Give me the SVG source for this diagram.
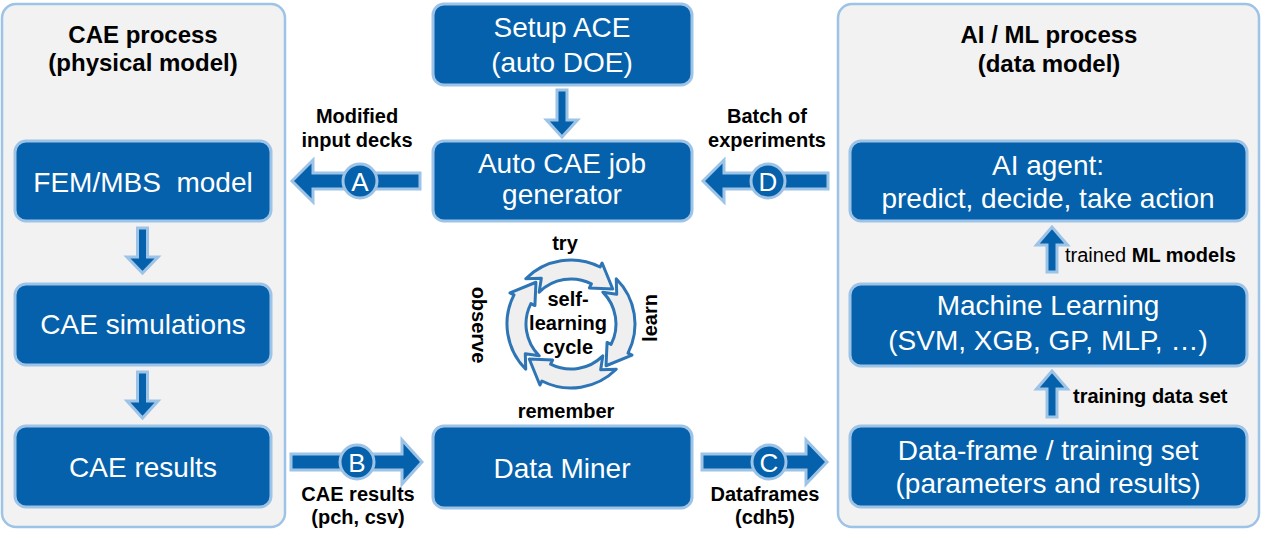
<svg xmlns="http://www.w3.org/2000/svg" width="1262" height="543" viewBox="0 0 1262 543">
<style>
.panel{fill:#f2f2f2;stroke:#9dc3e6;stroke-width:2.5}
.box{fill:#0561ab;stroke:#9dc3e6;stroke-width:3}
.bt{font-family:"Liberation Sans",Arial,sans-serif;font-size:28px;fill:#fff;text-anchor:middle}
.title{font-family:"Liberation Sans",Arial,sans-serif;font-size:24px;font-weight:bold;fill:#000;text-anchor:middle}
.lbl{font-family:"Liberation Sans",Arial,sans-serif;font-size:20px;font-weight:bold;fill:#000;text-anchor:middle}
.lblr{font-family:"Liberation Sans",Arial,sans-serif;font-size:20px;fill:#000}
.arr{fill:#0561ab;stroke:#9dc3e6;stroke-width:3;stroke-linejoin:miter}
.circ{fill:#0561ab;stroke:#9dc3e6;stroke-width:3}
.ct{font-family:"Liberation Sans",Arial,sans-serif;font-size:26px;fill:#fff;text-anchor:middle}
.cyc{fill:#efefef;stroke:#2e75b6;stroke-width:3;stroke-linejoin:round}
</style>
<defs>
<path id="cycArrow" class="cyc" d="M525.75,278.75 A64,64 0 0,1 600.06,266.98 L602.10,262.97 L612.75,288.97 L589.39,287.91 L591.43,283.90 A45,45 0 0,0 539.18,292.18 L541.32,278.29 Z"/>
</defs>
<rect width="1262" height="543" fill="#fff"/>

<g id="panel-cae">
<rect class="panel" x="2" y="4" width="283" height="523" rx="14"/>
<text class="title" x="143" y="43">CAE process</text>
<text class="title" x="143" y="71">(physical model)</text>
</g>
<g id="panel-ai">
<rect class="panel" x="838" y="4" width="421" height="523" rx="14"/>
<text class="title" x="1049" y="43">AI / ML process</text>
<text class="title" x="1049" y="72">(data model)</text>
</g>

<g id="fem">
<rect class="box" x="15" y="141" width="256" height="80" rx="11"/>
<text class="bt" x="143" y="192" xml:space="preserve">FEM/MBS  model</text>
</g>
<g id="cae-sim">
<rect class="box" x="15" y="284" width="256" height="81" rx="11"/>
<text class="bt" x="143" y="334">CAE simulations</text>
</g>
<g id="cae-res">
<rect class="box" x="15" y="426" width="256" height="81" rx="11"/>
<text class="bt" x="143" y="477">CAE results</text>
</g>
<g id="setup">
<rect class="box" x="433" y="4" width="259" height="81" rx="11"/>
<text class="bt" x="562" y="37">Setup ACE</text>
<text class="bt" x="562" y="72">(auto DOE)</text>
</g>
<g id="jobgen">
<rect class="box" x="433" y="141" width="259" height="80" rx="11"/>
<text class="bt" x="562" y="173">Auto CAE job</text>
<text class="bt" x="562" y="204">generator</text>
</g>
<g id="miner">
<rect class="box" x="433" y="426" width="259" height="82" rx="11"/>
<text class="bt" x="562" y="478">Data Miner</text>
</g>
<g id="agent">
<rect class="box" x="850" y="141" width="397" height="80" rx="11"/>
<text class="bt" x="1048" y="175">AI agent:</text>
<text class="bt" x="1048" y="208">predict, decide, take action</text>
</g>
<g id="ml">
<rect class="box" x="850" y="284" width="397" height="82" rx="11"/>
<text class="bt" x="1048" y="315">Machine Learning</text>
<text class="bt" x="1048" y="350">(SVM, XGB, GP, MLP, …)</text>
</g>
<g id="dataframe">
<rect class="box" x="850" y="426" width="397" height="81" rx="11"/>
<text class="bt" x="1048" y="460">Data-frame / training set</text>
<text class="bt" x="1048" y="493">(parameters and results)</text>
</g>

<g id="cycle">
<use href="#cycArrow"/>
<use href="#cycArrow" transform="rotate(90 571 324)"/>
<use href="#cycArrow" transform="rotate(180 571 324)"/>
<use href="#cycArrow" transform="rotate(270 571 324)"/>
<text class="lbl" x="568" y="306">self-</text>
<text class="lbl" x="568" y="330">learning</text>
<text class="lbl" x="568" y="354">cycle</text>
<text class="lbl" x="565" y="250">try</text>
<text class="lbl" x="566" y="418">remember</text>
<text class="lbl" transform="translate(657 318) rotate(-90)">learn</text>
<text class="lbl" transform="translate(472 325) rotate(90)">observe</text>
</g>

<g id="connectors">
<polygon class="arr" points="137.5,228 147.5,228 147.5,257 158,257 142.5,273 127,257 137.5,257"/>
<polygon class="arr" points="137.5,372 147.5,372 147.5,401 158,401 142.5,418 127,401 137.5,401"/>
<polygon class="arr" points="557,90 567,90 567,120 577.5,120 562,137 546.5,120 557,120"/>
<polygon class="arr" points="1047,272 1057,272 1057,245 1067.5,245 1052,227 1036.5,245 1047,245"/>
<polygon class="arr" points="1047,417 1057,417 1057,389 1067.5,389 1052,371 1036.5,389 1047,389"/>

<polygon class="arr" points="292,181 313,160 313,173 420,173 420,189 313,189 313,202"/>
<circle class="circ" cx="360" cy="181" r="17"/>
<text class="ct" x="360" y="190.5">A</text>
<text class="lbl" x="357" y="123">Modified</text>
<text class="lbl" x="357" y="147">input decks</text>

<polygon class="arr" points="703,181 724,160 724,173 828,173 828,189 724,189 724,202"/>
<circle class="circ" cx="768" cy="181" r="17"/>
<text class="ct" x="768" y="190.5">D</text>
<text class="lbl" x="767" y="123">Batch of</text>
<text class="lbl" x="767" y="147">experiments</text>

<polygon class="arr" points="291,454 402,454 402,440 422,462 402,484 402,470 291,470"/>
<circle class="circ" cx="357" cy="462" r="17"/>
<text class="ct" x="357" y="471.5">B</text>
<text class="lbl" x="358" y="501">CAE results</text>
<text class="lbl" x="358" y="524">(pch, csv)</text>

<polygon class="arr" points="702,454 806,454 806,440 827,462 806,484 806,470 702,470"/>
<circle class="circ" cx="769" cy="462" r="17"/>
<text class="ct" x="769" y="471.5">C</text>
<text class="lbl" x="765" y="501">Dataframes</text>
<text class="lbl" x="765" y="524">(cdh5)</text>

<text class="lblr" x="1065" y="262">trained <tspan font-weight="bold">ML models</tspan></text>
<text class="lbl" x="1073" y="403" style="text-anchor:start">training data set</text>
</g>
</svg>
